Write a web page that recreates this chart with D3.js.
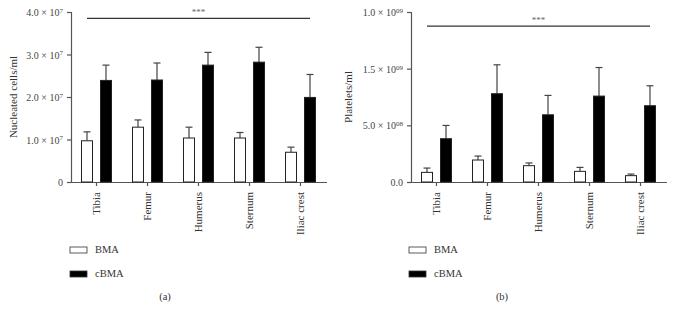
<!DOCTYPE html>
<html>
<head>
<meta charset="utf-8">
<script src="https://cdn.jsdelivr.net/npm/d3@7"></script>
<style>
  html, body { margin: 0; padding: 0; background: #fff; }
  svg { display: block; }
  text { font-family: "Liberation Serif", "Times New Roman", serif; fill: #333; }
</style>
</head>
<body>
<svg id="chart" width="673" height="318"></svg>
<script>
// ---- Data ----
const categories = ["Tibia", "Femur", "Humerus", "Sternum", "Iliac crest"];
const seriesNames = ["BMA", "cBMA"];

// Panel (a): Nucleated cells/ml
const nucBMA      = [0.97e7, 1.29e7, 1.035e7, 1.035e7, 0.70e7];
const nucBMAErr   = [0.21e7, 0.17e7, 0.255e7, 0.13e7, 0.12e7];
const nucCBMA     = [2.39e7, 2.40e7, 2.75e7, 2.82e7, 1.99e7];
const nucCBMAErr  = [0.36e7, 0.40e7, 0.30e7, 0.35e7, 0.54e7];
const nucTicks    = [0, 1e7, 2e7, 3e7, 4e7];
const nucTickLabels = [["0", ""], ["1.0 × 10", "7"], ["2.0 × 10", "7"], ["3.0 × 10", "7"], ["4.0 × 10", "7"]];

// Panel (b): Platelets/ml
const pltBMA      = [0.85e8, 1.94e8, 1.44e8, 0.94e8, 0.56e8];
const pltBMAErr   = [0.38e8, 0.35e8, 0.24e8, 0.35e8, 0.14e8];
const pltCBMA     = [3.82e8, 7.79e8, 5.93e8, 7.58e8, 6.73e8];
const pltCBMAErr  = [1.17e8, 2.55e8, 1.71e8, 2.52e8, 1.76e8];
const pltTicks    = [0, 5e8, 1e9, 1.5e9];
const pltTickLabels = [["0.0", ""], ["5.0 × 10", "08"], ["1.5 × 10", "09"], ["1.0 × 10", "09"]];

const svg = d3.select("#chart");

function panel(opts) {
  const g = svg.append("g");
  const x = d3.scaleBand().domain(categories).range([opts.left, opts.left + 255]).paddingInner(0).paddingOuter(0);
  const xs = d3.scaleBand().domain(seriesNames).range([10, 41]).paddingInner(7 / 19).paddingOuter(0);
  const y = d3.scaleLinear().domain(opts.domain).range([182, 12]);

  // y axis
  const yAxis = d3.axisLeft(y).tickValues(opts.ticks).tickSize(4).tickFormat("");
  const ya = g.append("g").attr("transform", `translate(${opts.left},0)`).call(yAxis);
  ya.select(".domain").attr("stroke", "#555").attr("stroke-width", 1.2);
  ya.selectAll(".tick line").attr("stroke", "#555").attr("stroke-width", 1.2);
  ya.selectAll(".tick").each(function(d, i) {
    const t = d3.select(this).append("text")
      .attr("x", -8).attr("dy", "0.35em")
      .attr("text-anchor", "end")
      .attr("font-size", 10)
      .style("fill", "#444");
    t.append("tspan").text(opts.tickLabels[i][0]);
    if (opts.tickLabels[i][1]) {
      t.append("tspan").attr("dy", "-0.45em").attr("font-size", 7).text(opts.tickLabels[i][1]);
    }
  });

  // x axis
  const xAxis = d3.axisBottom(x).tickSize(4).tickFormat("");
  const xa = g.append("g").attr("transform", "translate(0,182)").call(xAxis);
  xa.select(".domain").attr("stroke", "#555").attr("stroke-width", 1.2).attr("d", `M${opts.left},0.5H${opts.left + 256}`);
  xa.selectAll(".tick line").attr("stroke", "#555").attr("stroke-width", 1.2);
  xa.selectAll(".tick").append("text")
    .attr("transform", "rotate(-90)")
    .attr("x", -10).attr("y", 0).attr("dy", "0.35em")
    .attr("text-anchor", "end")
    .attr("font-size", 11)
    .style("fill", "#333")
    .text(d => d);

  // bars
  const rows = categories.map((c, i) => ({ c, i }));
  const series = [
    { name: "BMA", vals: opts.bma, errs: opts.bmaErr, fill: "#fff" },
    { name: "cBMA", vals: opts.cbma, errs: opts.cbmaErr, fill: "#000" }
  ];
  series.forEach(s => {
    // error bars first (behind)
    rows.forEach(r => {
      const cx = x(r.c) + xs(s.name) + xs.bandwidth() / 2;
      const top = y(s.vals[r.i] + s.errs[r.i]);
      g.append("line").attr("x1", cx).attr("x2", cx)
        .attr("y1", y(s.vals[r.i])).attr("y2", top)
        .attr("stroke", "#444").attr("stroke-width", 1.2);
      g.append("line").attr("x1", cx - 3.5).attr("x2", cx + 3.5)
        .attr("y1", top).attr("y2", top)
        .attr("stroke", "#444").attr("stroke-width", 1.2);
    });
    g.selectAll(null).data(rows).enter().append("rect")
      .attr("x", r => x(r.c) + xs(s.name) + 0.5)
      .attr("y", r => y(s.vals[r.i]))
      .attr("width", xs.bandwidth() - 1)
      .attr("height", r => y(0) - y(s.vals[r.i]))
      .attr("fill", s.fill)
      .attr("stroke", "#222")
      .attr("stroke-width", 1);
  });

  // significance line
  const sx1 = x(categories[0]) + xs("BMA") + xs.bandwidth() / 2;
  const sx2 = x(categories[4]) + xs("cBMA") + xs.bandwidth() / 2;
  const sy = y(opts.sigVal);
  g.append("line").attr("x1", sx1).attr("x2", sx2).attr("y1", sy).attr("y2", sy)
    .attr("stroke", "#333").attr("stroke-width", 1.2);
  g.append("text").attr("x", (sx1 + sx2) / 2).attr("y", sy - 3)
    .attr("text-anchor", "middle").attr("font-size", 9).style("fill", "#666").text("***");

  // y label
  g.append("text")
    .attr("transform", `translate(${opts.ylabelX},97) rotate(-90)`)
    .attr("text-anchor", "middle").attr("dy", "0.35em")
    .attr("font-size", 11).style("fill", "#333")
    .text(opts.ylabel);

  // legend
  const lg = g.append("g");
  series.forEach((s, i) => {
    const ly = 247 + i * 24;
    lg.append("rect").attr("x", opts.legendX).attr("y", ly).attr("width", 17).attr("height", 6)
      .attr("fill", s.fill).attr("stroke", "#333").attr("stroke-width", 0.8);
    lg.append("text").attr("x", opts.legendX + 25).attr("y", ly + 6)
      .attr("font-size", 10.5).style("fill", "#333").text(s.name);
  });

  // panel label
  g.append("text").attr("x", opts.panelX).attr("y", 300)
    .attr("text-anchor", "middle").attr("font-size", 10.5).style("fill", "#333").text(opts.panel);
}

panel({
  left: 71, domain: [0, 4e7], ticks: nucTicks, tickLabels: nucTickLabels,
  bma: nucBMA, bmaErr: nucBMAErr, cbma: nucCBMA, cbmaErr: nucCBMAErr,
  sigVal: 3.85e7, ylabel: "Nucleated cells/ml", ylabelX: 13,
  legendX: 70, panelX: 165, panel: "(a)"
});
panel({
  left: 411, domain: [0, 1.5e9], ticks: pltTicks, tickLabels: pltTickLabels,
  bma: pltBMA, bmaErr: pltBMAErr, cbma: pltCBMA, cbmaErr: pltCBMAErr,
  sigVal: 1.376e9, ylabel: "Platelets/ml", ylabelX: 348,
  legendX: 409, panelX: 502, panel: "(b)"
});
</script>
</body>
</html>
